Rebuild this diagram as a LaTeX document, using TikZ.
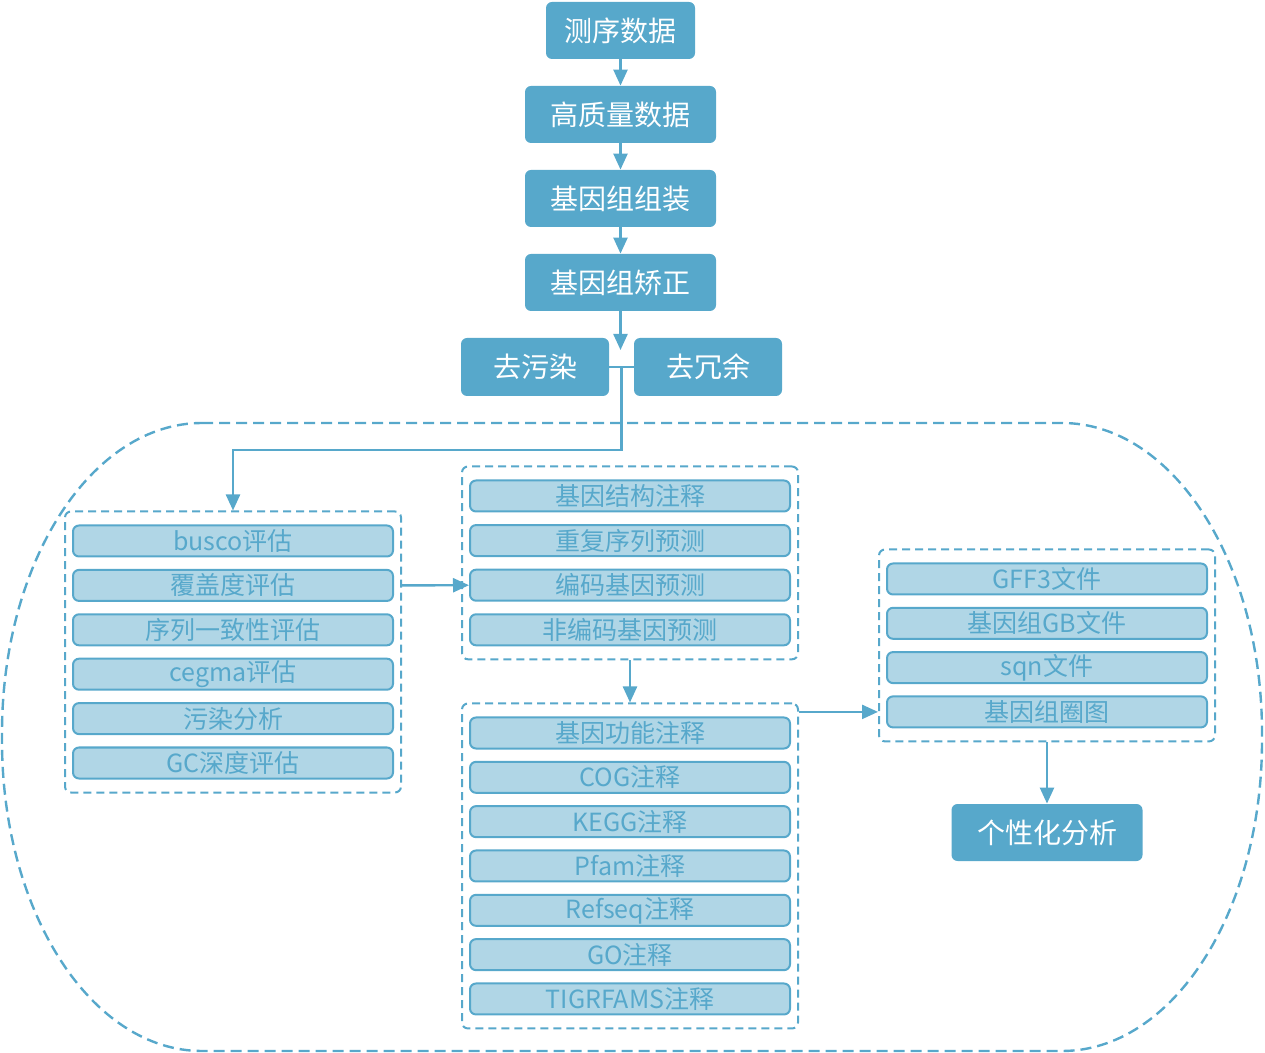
\documentclass[tikz,border=0pt]{standalone}
\usepackage{fontspec}
\setmainfont{Noto Sans CJK SC}
\usepackage{tikz}
\usetikzlibrary{arrows.meta,fit}
\definecolor{flowblue}{HTML}{57A8CB}
\definecolor{itemfill}{HTML}{B0D6E6}

\begin{document}
\begin{tikzpicture}[x=0.5pt,y=-0.5pt,>={Triangle[width=7pt,length=8pt]},
    darkbox/.style={draw=none,fill=flowblue,text=white,rounded corners=3pt,
        minimum width=95.5pt,minimum height=28.5pt,inner sep=0pt,
        font=\fontsize{14}{16}\selectfont},
    itembox/.style={draw=flowblue,line width=1pt,fill=itemfill,text=flowblue,
        rounded corners=3pt,minimum width=160pt,minimum height=15.5pt,inner sep=0pt,
        font=\fontsize{12.5}{14}\selectfont},
    grpbox/.style={draw=flowblue,line width=1pt,dash pattern=on 4pt off 2.5pt,
        rounded corners=3pt,inner xsep=3.5pt,inner ysep=6.5pt},
    link/.style={draw=flowblue,line width=1.2pt}]
    \useasboundingbox (0,0) rectangle (1265,1053);
    % outer dashed border
    \draw[flowblue,line width=1.2pt,dash pattern=on 5.5pt off 3pt]
        (202,423) -- (1062,423)
        .. controls (1172.5,423) and (1262,561.8) .. (1262,733)
        -- (1262,741)
        .. controls (1262,912.2) and (1172.5,1051) .. (1062,1051)
        -- (202,1051)
        .. controls (91.5,1051) and (2,912.2) .. (2,741)
        -- (2,733)
        .. controls (2,561.8) and (91.5,423) .. (202,423) -- cycle;
    % main line
    \node[darkbox,minimum width=74.5pt] (seq) at (620.5,30.5) {测序数据};
    \node[darkbox] (hq) at (620.5,114.5) {高质量数据};
    \node[darkbox] (asm) at (620.5,198.5) {基因组组装};
    \node[darkbox] (corr) at (620.5,282.5) {基因组矫正};
    \node[darkbox,minimum width=74pt,minimum height=29pt] (decont) at (535,367) {去污染};
    \node[darkbox,minimum width=74pt,minimum height=29pt] (dedup) at (708,367) {去冗余};
    \draw[link,->] (seq) -- (hq);
    \draw[link,->] (hq) -- (asm);
    \draw[link,->] (asm) -- (corr);
    \coordinate (split) at (620.5,350);
    \draw[link,->] (corr) -- (split);
    \draw[link] (decont.east) -- (dedup.west) coordinate[pos=0.5] (j);
    % evaluation
    \foreach \lab [count=\i] in {busco评估,覆盖度评估,序列一致性评估,cegma评估,污染分析,GC深度评估}{
        \node[itembox] (l\i) at (233,{541+44.4*(\i-1)}) {\lab};
    }
    \node[grpbox,fit=(l1)(l6)] (lgrp) {};
    % gene prediction
    \foreach \lab [count=\i] in {基因结构注释,重复序列预测,编码基因预测,非编码基因预测}{
        \node[itembox] (m\i) at (630,{496+44.6*(\i-1)}) {\lab};
    }
    \node[grpbox,fit=(m1)(m4)] (mgrp) {};
    % function annotation
    \foreach \lab [count=\i] in {基因功能注释,COG注释,KEGG注释,Pfam注释,Refseq注释,GO注释,TIGRFAMS注释}{
        \node[itembox] (f\i) at (630,{733+44.33*(\i-1)}) {\lab};
    }
    \node[grpbox,fit=(f1)(f7)] (fgrp) {};
    % output files
    \foreach \lab [count=\i] in {GFF3文件,基因组GB文件,sqn文件,基因组圈图}{
        \node[itembox] (r\i) at (1047,{579+44.3*(\i-1)}) {\lab};
    }
    \node[grpbox,fit=(r1)(r4)] (rgrp) {};
    \node[darkbox] (custom) at (1047,832.5) {个性化分析};
    % links
    \draw[link,->] (j) -- ++(0,83) -| (lgrp.north);
    \draw[link,->] (l2 -| lgrp.east) -- (m3.west);
    \draw[link,->] (mgrp.south) -- (fgrp.north);
    \draw[link,->] (r4 -| fgrp.east) -- (r4 -| rgrp.west);
    \draw[link,->] (rgrp.south) -- (custom.north);
\end{tikzpicture}
\end{document}
